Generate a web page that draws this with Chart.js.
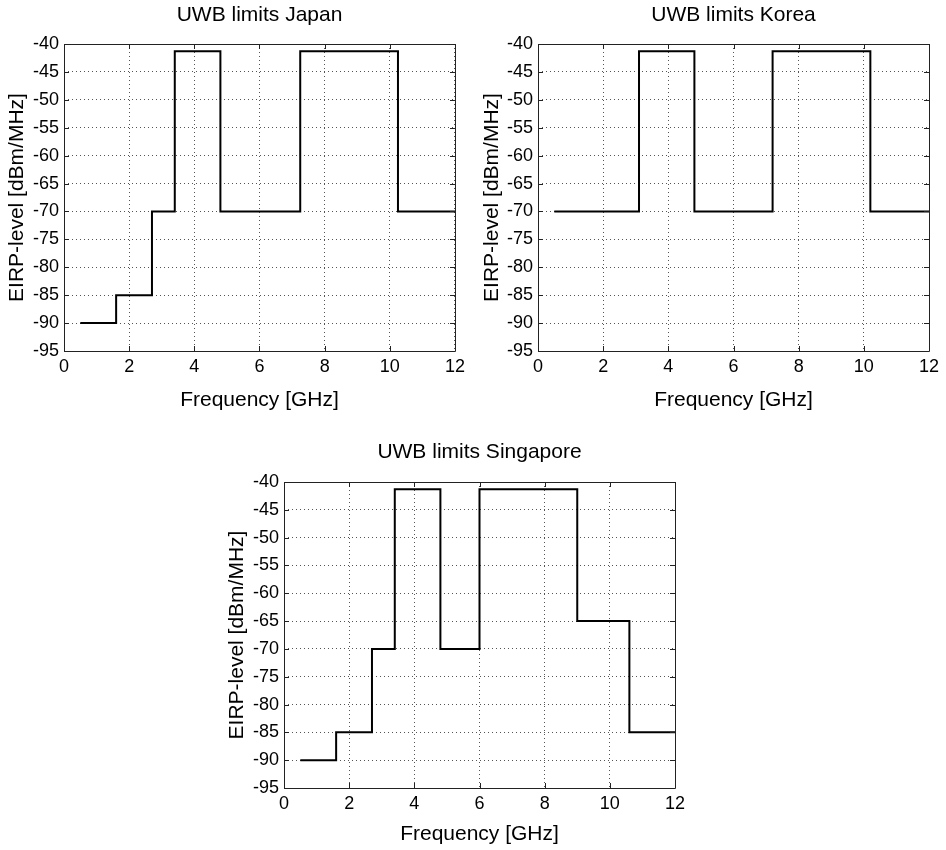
<!DOCTYPE html>
<html>
<head>
<meta charset="utf-8">
<title>UWB limits</title>
<script src="https://cdn.jsdelivr.net/npm/chart.js"></script>
<style>
    body { margin: 0; background: #fff; }
    canvas { position: absolute; }
</style>
</head>
<body>
<canvas id="japanChart" width="470" height="420" style="left:0px;top:0px"></canvas>
<canvas id="koreaChart" width="476" height="420" style="left:470px;top:0px"></canvas>
<canvas id="singaporeChart" width="480" height="420" style="left:220px;top:430px"></canvas>
<script>
// band edges [GHz] and the EIRP limit [dBm/MHz] that holds from each edge to the next
const japanEdges = [0.5, 1.6, 2.7, 3.4, 4.8, 7.25, 10.25, 12];
const japanLevels = [-90, -85, -70, -41.3, -70, -41.3, -70];

const koreaEdges = [0.5, 3.1, 4.8, 7.2, 10.2, 12];
const koreaLevels = [-70, -41.3, -70, -41.3, -70];

const singaporeEdges = [0.5, 1.6, 2.7, 3.4, 4.8, 6.0, 9.0, 10.6, 12];
const singaporeLevels = [-90, -85, -70, -41.3, -70, -41.3, -65, -85];

const xTicks = [0, 2, 4, 6, 8, 10, 12];
const yTicks = [-95, -90, -85, -80, -75, -70, -65, -60, -55, -50, -45, -40];

Chart.defaults.font.family = "'Liberation Sans', Arial, Helvetica, sans-serif";
Chart.defaults.color = '#000';

// box round the plot plus matlab style inward ticks
const framePlugin = {
    id: 'frame',
    afterDatasetsDraw(chart) {
        const ctx = chart.ctx;
        const a = chart.chartArea;
        const xs = chart.scales.x;
        const ys = chart.scales.y;
        ctx.save();
        ctx.strokeStyle = '#222';
        ctx.lineWidth = 1;
        ctx.beginPath();
        ctx.rect(a.left + 0.5, a.top + 0.5, a.right - a.left, a.bottom - a.top);
        xTicks.forEach(function (v) {
            var px = Math.round(xs.getPixelForValue(v)) + 0.5;
            ctx.moveTo(px, a.bottom);
            ctx.lineTo(px, a.bottom - 5);
            ctx.moveTo(px, a.top);
            ctx.lineTo(px, a.top + 5);
        });
        yTicks.forEach(function (v) {
            var py = Math.round(ys.getPixelForValue(v)) + 0.5;
            ctx.moveTo(a.left, py);
            ctx.lineTo(a.left + 5, py);
            ctx.moveTo(a.right, py);
            ctx.lineTo(a.right - 5, py);
        });
        ctx.stroke();
        ctx.restore();
    }
};

// box: chart area edges and text centres, in canvas pixels
function drawLimits(canvasId, titleText, edges, levels, box) {
    var canvas = document.getElementById(canvasId);
    var W = canvas.width;
    var H = canvas.height;
    var half = 21 * 1.2 / 2;
    var points = edges.map(function (x, i) {
        return { x: x, y: levels[Math.min(i, levels.length - 1)] };
    });
    return new Chart(canvas.getContext('2d'), {
        type: 'line',
        data: {
            datasets: [{
                data: points,
                xAxisID: 'x',
                yAxisID: 'y',
                stepped: 'before',
                borderColor: '#000',
                borderWidth: 2,
                pointRadius: 0,
                fill: false
            }]
        },
        plugins: [framePlugin],
        options: {
            responsive: false,
            animation: false,
            devicePixelRatio: 1,
            layout: { padding: { left: 0, top: 0, bottom: 0, right: W - box.R } },
            plugins: {
                legend: { display: false },
                tooltip: { enabled: false },
                title: { display: false }
            },
            scales: {
                x: {
                    type: 'linear',
                    position: 'bottom',
                    min: 0,
                    max: 12,
                    afterBuildTicks: function (s) { s.ticks = xTicks.map(function (v) { return { value: v }; }); },
                    afterFit: function (s) { s.height = H - box.B; },
                    grid: { color: '#555', lineWidth: 1, drawTicks: false },
                    border: { display: false, dash: [1, 3] },
                    ticks: { font: { size: 18 }, padding: 5, maxRotation: 0, autoSkip: false },
                    title: {
                        display: true,
                        text: 'Frequency [GHz]',
                        font: { size: 21 },
                        padding: { top: 0, bottom: H - box.xTitleY - half }
                    }
                },
                top: {
                    type: 'linear',
                    position: 'top',
                    min: 0,
                    max: 12,
                    afterFit: function (s) { s.height = box.T; },
                    grid: { display: false },
                    border: { display: false },
                    ticks: { display: false },
                    title: {
                        display: true,
                        text: titleText,
                        font: { size: 21 },
                        padding: { top: box.titleY - half, bottom: 0 }
                    }
                },
                y: {
                    type: 'linear',
                    position: 'left',
                    min: -95,
                    max: -40,
                    afterBuildTicks: function (s) { s.ticks = yTicks.map(function (v) { return { value: v }; }); },
                    afterFit: function (s) { s.width = box.L; },
                    grid: { color: '#555', lineWidth: 1, drawTicks: false },
                    border: { display: false, dash: [1, 3] },
                    ticks: { font: { size: 18 }, padding: 5 },
                    title: {
                        display: true,
                        text: 'EIRP-level [dBm/MHz]',
                        font: { size: 21 },
                        padding: { top: box.yTitleX - half, bottom: 0 }
                    }
                }
            }
        }
    });
}

drawLimits('japanChart', 'UWB limits Japan', japanEdges, japanLevels,
    { L: 64, R: 456, T: 44, B: 351, titleY: 15, xTitleY: 400, yTitleX: 17 });
drawLimits('koreaChart', 'UWB limits Korea', koreaEdges, koreaLevels,
    { L: 68, R: 459, T: 44, B: 351, titleY: 15, xTitleY: 400, yTitleX: 22 });
drawLimits('singaporeChart', 'UWB limits Singapore', singaporeEdges, singaporeLevels,
    { L: 64, R: 455, T: 52, B: 358, titleY: 22, xTitleY: 404, yTitleX: 17 });
</script>
</body>
</html>
